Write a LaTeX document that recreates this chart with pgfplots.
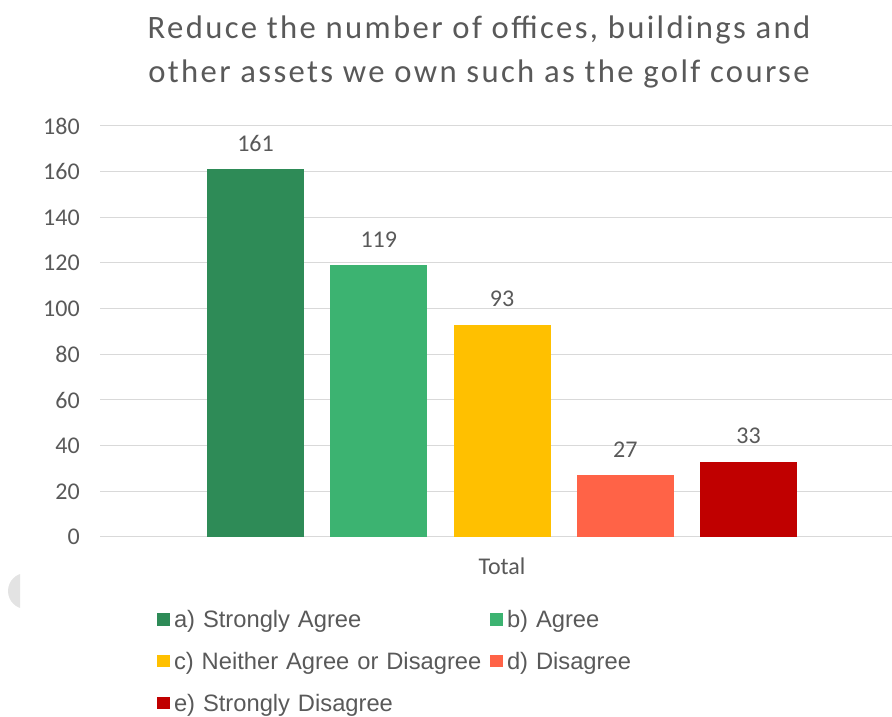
\documentclass[border=0pt]{standalone}
\usepackage{pgfplots}
\pgfplotsset{compat=1.18}
\usepackage{fontspec}
\setmainfont{Carlito}
\newfontfamily\legfont{Liberation Sans}
\newfontfamily\titlefont[LetterSpace=7.2]{Carlito}

\definecolor{txt}{HTML}{595959}
\definecolor{gridc}{HTML}{D9D9D9}
\definecolor{cSA}{HTML}{2E8B57}
\definecolor{cA}{HTML}{3CB371}
\definecolor{cN}{HTML}{FFC000}
\definecolor{cD}{HTML}{FF6347}
\definecolor{cSD}{HTML}{C00000}

\begin{document}
\begin{tikzpicture}
% canvas of 892 x 717 units (0.75pt each)
\useasboundingbox (0,0) rectangle (669pt,537.75pt);

% faint grey tab at the left edge
\begin{scope}
  \clip (0,0) rectangle (15pt,537.75pt);
  \fill[black!11] (19.5pt,94.5pt) circle (13.5pt);
\end{scope}

% two-line title
\node[anchor=base, inner sep=0pt, text=txt, font=\titlefont\fontsize{24.5}{28}\selectfont]
  at (359.25pt,509pt) {Reduce the number of offices, buildings and};
\node[anchor=base, inner sep=0pt, text=txt, font=\titlefont\fontsize{24.5}{28}\selectfont]
  at (359.25pt,476pt) {other assets we own such as the golf course};

\begin{axis}[
  at={(75pt,135pt)}, anchor=south west,
  scale only axis, width=594pt, height=308.25pt,
  xmin=-402, xmax=390, ymin=0, ymax=180,
  ytick={0,20,...,180},
  xtick={0}, xticklabels={Total},
  /pgf/number format/assume math mode=true,
  ymajorgrids, grid style={gridc, line width=0.75pt},
  axis line style={draw=none},
  major tick length=0pt,
  tick label style={font=\fontsize{18}{20}\selectfont, text=txt},
  yticklabel style={anchor=east, inner sep=0pt, xshift=-15pt},
  xticklabel style={anchor=base, inner sep=0pt, yshift=-28.5pt},
  nodes near coords,
  every node near coord/.append style={font=\fontsize{18}{20}\selectfont,
    text=txt, anchor=base, inner sep=0pt, yshift=13.5pt},
  legend columns=2,
  legend cell align=left,
  legend image code/.code={\fill[#1] (0pt,-4.7pt) rectangle (9.75pt,4.7pt);},
  legend style={at={(0.072,-0.1747)}, anchor=north west,
    draw=none, fill=none, inner sep=0pt, outer sep=0pt,
    row sep=15.3pt,
    /tikz/every odd column/.append style={column sep=3pt},
    nodes={inner sep=0pt, text height=14.2pt, text depth=1.8pt,
      text width=237pt, text=txt,
      font=\legfont\fontsize{17.8}{20}\selectfont}},
  clip=false,
]
\addplot[ybar, bar width=97, bar shift=0pt, fill=cSA, draw=none] coordinates {(-246.5,161)};
\addlegendentry{a) Strongly Agree}
\addplot[ybar, bar width=97, bar shift=0pt, fill=cA, draw=none] coordinates {(-123.25,119)};
\addlegendentry{b) Agree}
\addplot[ybar, bar width=97, bar shift=0pt, fill=cN, draw=none] coordinates {(0,93)};
\addlegendentry{c) Neither Agree or Disagree}
\addplot[ybar, bar width=97, bar shift=0pt, fill=cD, draw=none] coordinates {(123.25,27)};
\addlegendentry{d) Disagree}
\addplot[ybar, bar width=97, bar shift=0pt, fill=cSD, draw=none] coordinates {(246.5,33)};
\addlegendentry{e) Strongly Disagree}
\end{axis}
\end{tikzpicture}
\end{document}
